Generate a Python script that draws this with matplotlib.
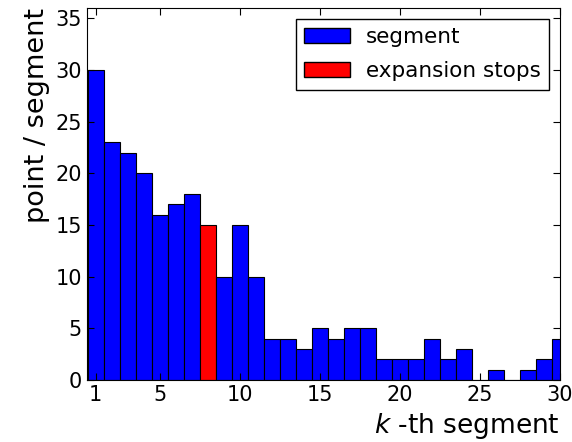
import matplotlib
matplotlib.use('Agg')
import matplotlib.pyplot as plt
from matplotlib.patches import Patch

# Data
segments = list(range(1, 31))
counts = [30, 23, 22, 20, 16, 17, 18, 15, 10, 15,
          10, 4, 4, 3, 5, 4, 5, 5, 2, 2,
          2, 4, 2, 3, 0, 1, 0, 1, 2, 4]
stop_segment = 8
xticks = [1, 5, 10, 15, 20, 25, 30]
yticks = [0, 5, 10, 15, 20, 25, 30, 35]

colors = ['#ff0000' if s == stop_segment else '#0000ff' for s in segments]

fig = plt.figure(figsize=(5.72, 4.42), dpi=100)
ax = fig.add_axes([0.152, 0.140, 0.827, 0.842])

ax.bar(segments, counts, width=1.0, color=colors, edgecolor='black', linewidth=0.8)

ax.set_xlim(0.45, 30)
ax.set_ylim(0, 36)
ax.set_xticks(xticks)
ax.set_yticks(yticks)
ax.tick_params(direction='in', top=True, right=True, labelsize=15, length=5)

ax.set_ylabel('point / segment', fontsize=19.5, ha='right', y=1.0)
ax.set_xlabel('$k$ -th segment', fontsize=19, ha='right', x=1.0)

handles = [Patch(facecolor='#0000ff', edgecolor='black', label='segment'),
           Patch(facecolor='#ff0000', edgecolor='black', label='expansion stops')]
ax.legend(handles=handles, loc='upper right', fontsize=15.5, fancybox=False,
          edgecolor='black', framealpha=1, handlelength=2.1, handletextpad=0.75,
          labelspacing=0.65, borderaxespad=0.5)

fig.savefig('out.png', dpi=100)
